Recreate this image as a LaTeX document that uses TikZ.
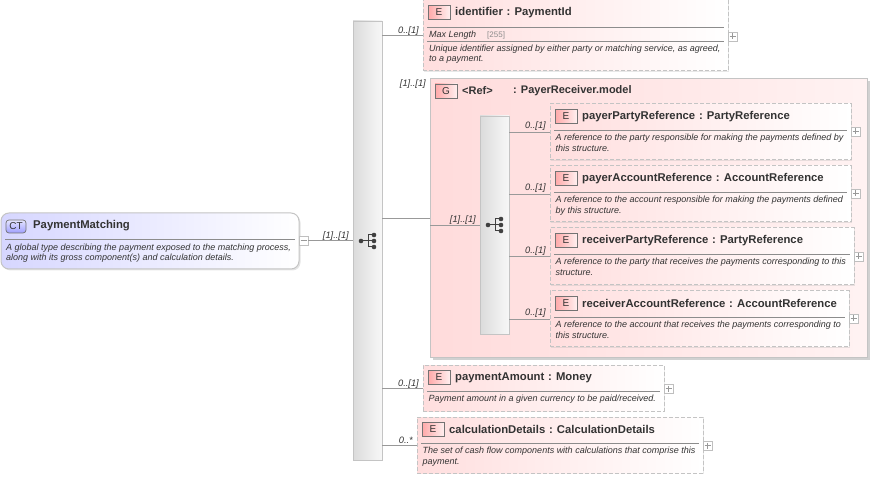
\documentclass[tikz,border=0pt]{standalone}
\usepackage{fontspec}
\setmainfont{Liberation Sans}
\usetikzlibrary{shadows,calc}
\definecolor{ink}{HTML}{333333}
\definecolor{edge}{HTML}{C4C4C4}
\tikzset{
  x=1pt,y=-1pt,
  elembox/.style={draw=edge,line width=1pt,dash pattern=on 4pt off 2pt,left color=red!13,right color=white,anchor=north west,inner sep=0,outer sep=0,drop shadow={shadow xshift=1.2pt,shadow yshift=-1.2pt,fill=black!30,opacity=.3}},
  groupbox/.style={draw=edge,solid,line width=1pt,left color=red!14,right color=red!5,anchor=north west,inner sep=0,outer sep=0,drop shadow={shadow xshift=2.5pt,shadow yshift=-2.5pt,fill=black!40,opacity=.45}},
  ctbox/.style={draw=edge,line width=1pt,rounded corners=8pt,left color=blue!16,right color=white,anchor=north west,inner sep=0,outer sep=0,drop shadow={shadow xshift=1.5pt,shadow yshift=-1.5pt,fill=black!30,opacity=.35}},
  seqbar/.style={draw=edge,line width=.8pt,left color=black!14,right color=black!3,anchor=north west,inner sep=0,outer sep=0,drop shadow={shadow xshift=1.2pt,shadow yshift=-1.2pt,fill=black!30,opacity=.35}},
  badge/.style={draw=black!55,line width=.7pt,left color=red!34,right color=red!6,anchor=north west,inner sep=0,outer sep=0,minimum width=22pt,minimum height=14pt,text=ink,font=\fontsize{10}{10}\selectfont},
  ctbadge/.style={draw=black!55,line width=.7pt,rounded corners=3pt,top color=blue!10,bottom color=blue!38,anchor=north west,inner sep=0,outer sep=0,minimum width=20pt,minimum height=13pt,text=ink,font=\fontsize{10}{10}\selectfont},
  titletext/.style={anchor=west,inner sep=0,text=ink,font=\fontsize{11.3}{11}\selectfont\bfseries},
  desctext/.style={anchor=north west,inner sep=0,align=left,text=ink,font=\fontsize{9}{10.3}\selectfont\itshape},
  card/.style={anchor=base east,inner sep=0,text=ink,font=\fontsize{9.3}{10}\selectfont\itshape},
  sepline/.style={draw=black!45,line width=.8pt},
  toggle/.style={draw=black!25,fill=white,line width=.7pt,minimum size=9pt,inner sep=0,outer sep=0,anchor=north west},
  sign/.style={draw=black!40,line width=.6pt},
  link/.style={draw=black!40,line width=.7pt},
  dotmark/.style={circle,fill=black!75,inner sep=0,minimum size=4.6pt},
  plainlabel/.style={anchor=west,inner sep=0,text=black!45,font=\fontsize{8}{8}\selectfont},
}
% id, x, y, w, h, title, separator offset, description, toggle y
\newcommand{\elemcard}[9]{%
  \node[elembox,minimum width=#4pt,minimum height=#5pt] (#1) at (#2,#3) {};
  \node[badge] (#1b) at ($(#1.north west)+(5,5.5)$) {E};
  \node[titletext] (#1t) at ($(#1b.east)+(5,0)$) {#6};
  \draw[sepline] ($(#1.north west)+(4,#7)$) -- ($(#1.north east)+(-4,#7)$);
  \node[desctext] (#1d) at ($(#1.north west)+(5.5,#7+4)$) {#8};
  \node[toggle] (#1p) at ($(#1.north east)+(0,#9)$) {};
  \draw[sign] ($(#1p.center)+(-3,0)$) -- ($(#1p.center)+(3,0)$);
  \draw[sign] ($(#1p.center)+(0,-3)$) -- ($(#1p.center)+(0,3)$);
}
\newcommand{\treemark}[2]{%
  \coordinate (#1) at (#2);
  \node[dotmark] (#1r) at ($(#1)+(-7,0)$) {};
  \node[dotmark] (#1a) at ($(#1)+(6,-6)$) {};
  \node[dotmark] (#1c) at ($(#1)+(6,0)$) {};
  \node[dotmark] (#1e) at ($(#1)+(6,6)$) {};
  \draw[black!75,line width=1pt] (#1r.center) -- (#1c.center) ($(#1)+(0,-6)$) -- ($(#1)+(0,6)$) ($(#1)+(0,-6)$) -- (#1a.center) ($(#1)+(0,6)$) -- (#1e.center);
}
\begin{document}
\begin{tikzpicture}
\useasboundingbox (0,0) rectangle (873,478);
% complex type
\node[ctbox,minimum width=298pt,minimum height=56pt] (ct) at (1,213) {};
\node[ctbadge] (ctb) at (6,220) {CT};
\node[titletext] (ctt) at (33,226) {PaymentMatching};
\draw[sepline] (5,239) -- (295,239);
\node[desctext] (ctd) at (6,243.5) {A global type describing the payment exposed to the matching process,\\along with its gross component(s) and calculation details.};
\node[toggle] (ctm) at (299,236) {};
\draw[sign] ($(ctm.center)+(-3,0)$) -- ($(ctm.center)+(3,0)$);
% main sequence
\node[seqbar,minimum width=29pt,minimum height=439pt] (seq) at (353,21) {};
\treemark{mainmark}{368,241}
\draw[link] (ctm.east) -- (ctm.east -| seq.west);
\node[card] (c0) at (349,239) {[1]..[1]};
% identifier
\elemcard{id}{423}{0}{305}{71}{identifier\,\,: PaymentId}{27}{}{32}
\draw[sepline] ($(id.north west)+(4,41)$) -- ($(id.north east)+(-4,41)$);
\node[desctext,anchor=west] (idml) at (429,35) {Max Length};
\node[plainlabel] (idv) at (487,35) {[255]};
\node[desctext] (idd) at (429,44.5) {Unique identifier assigned by either party or matching service, as agreed,\\to a payment.};
\draw[link] (seq.east |- id.west) -- (id.west);
\node[card] at (419,34) {0..[1]};
% group
\node[groupbox,minimum width=437pt,minimum height=279pt] (grp) at (430,79) {};
\node[badge] (grpb) at (435,84) {G};
\node[titletext,font=\fontsize{11}{11}\selectfont\bfseries] (grpr) at (462,91) {<Ref>};
\node[titletext,font=\fontsize{11}{11}\selectfont\bfseries] (grpn) at (513,91) {: PayerReceiver.model};
\draw[link] (seq.east |- grp.west) -- (grp.west);
\node[card] at (426,87) {[1]..[1]};
% inner sequence
\node[seqbar,minimum width=29pt,minimum height=218pt] (sub) at (480,116) {};
\treemark{submark}{495,225}
\draw[link] (grp.west |- sub.west) -- (sub.west);
\node[card] at (476,223) {[1]..[1]};
% group members
\elemcard{a}{550}{104}{301}{56}{payerPartyReference\,\,: PartyReference}{26}{A reference to the party responsible for making the payments defined by\\this structure.}{23}
\elemcard{b}{550}{166}{301}{56}{payerAccountReference\,\,: AccountReference}{26}{A reference to the account responsible for making the payments defined\\by this structure.}{23}
\elemcard{c}{550}{228}{304}{57}{receiverPartyReference\,\,: PartyReference}{26}{A reference to the party that receives the payments corresponding to this\\structure.}{24}
\elemcard{d}{550}{291}{299}{56}{receiverAccountReference\,\,: AccountReference}{26}{A reference to the account that receives the payments corresponding to\\this structure.}{23}
\foreach \n in {a,b,c,d}{
  \draw[link] (sub.east |- \n.west) -- (\n.west);
  \node[card] at ($(\n.west)+(-4,-3)$) {0..[1]};
}
% lower elements
\elemcard{e}{423}{365}{241}{46}{paymentAmount\,\,: Money}{26}{Payment amount in a given currency to be paid/received.}{19}
\draw[link] (seq.east |- e.west) -- (e.west);
\node[card] at (419,386) {0..[1]};
\elemcard{f}{417}{417}{286}{56}{calculationDetails\,\,: CalculationDetails}{26}{The set of cash flow components with calculations that comprise this\\payment.}{24}
\draw[link] (seq.east |- f.west) -- (f.west);
\node[card] at (413,443) {0..*};
\end{tikzpicture}
\end{document}
